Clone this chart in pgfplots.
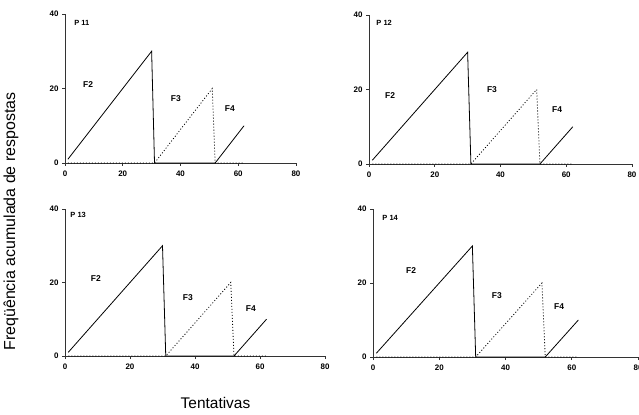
\documentclass[border=0pt]{standalone}
\usepackage{fontspec}
\setmainfont{Liberation Sans}
\usepackage{pgfplots}
\pgfplotsset{compat=1.18}
\pgfplotsset{
  panel/.style={
    scale only axis,
    anchor=origin,
    xmin=0,xmax=80,ymin=0,ymax=40,
    axis x line*=bottom, axis y line*=left,
    axis line style={-, line width=0.9bp, black!80},
    xtick={0,20,40,60,80}, ytick={0,20,40},
    tick align=outside, major tick length=3bp,
    tick style={line width=0.8bp, black!80},
    /pgf/number format/assume math mode=true,
    tick label style={font=\bfseries\fontsize{8}{9}\selectfont},
    xticklabel style={yshift=-1bp},
    clip=false,
  },
}
\tikzset{
  solidline/.style={black, line width=0.8bp},
  dotline/.style={black, line width=0.8bp, dash pattern=on 1bp off 2bp},
  lab/.style={font=\bfseries\fontsize{8.5}{9}\selectfont},
  plab/.style={font=\bfseries\fontsize{7.5}{8}\selectfont, anchor=west},
}
\begin{document}
\begin{tikzpicture}
\useasboundingbox (0,0) rectangle (639bp,415bp);

% P 11
\begin{axis}[panel, at={(65bp,252bp)}, width=231bp, height=149bp]
\addplot[dotline] coordinates {(1,0) (31,0) (32,1) (51,20) (52,0) (62,0)};
\addplot[solidline] coordinates {(1,1) (30,30) (31,0) (52,0)};
\addplot[solidline] coordinates {(52,0) (62,10)};
\node[plab] at (axis cs:2,37.5) {P 11};
\node[lab] at (axis cs:8,21) {F2};
\node[lab] at (axis cs:38.4,17.2) {F3};
\node[lab] at (axis cs:57.1,14.5) {F4};
\end{axis}

% P 12
\begin{axis}[panel, at={(369bp,251bp)}, width=263bp, height=149bp]
\addplot[dotline] coordinates {(1,0) (31,0) (32,1) (51,20) (52,0) (62,0)};
\addplot[solidline] coordinates {(1,1) (30,30) (31,0) (52,0)};
\addplot[solidline] coordinates {(52,0) (62,10)};
\node[plab] at (axis cs:1.2,37.9) {P 12};
\node[lab] at (axis cs:6.4,18.5) {F2};
\node[lab] at (axis cs:37.4,19.9) {F3};
\node[lab] at (axis cs:57.2,14.5) {F4};
\end{axis}

% P 13
\begin{axis}[panel, at={(65bp,59bp)}, width=260bp, height=147bp]
\addplot[dotline] coordinates {(1,0) (31,0) (32,1) (51,20) (52,0) (62,0)};
\addplot[solidline] coordinates {(1,1) (30,30) (31,0) (52,0)};
\addplot[solidline] coordinates {(52,0) (62,10)};
\node[plab] at (axis cs:0.6,38.4) {P 13};
\node[lab] at (axis cs:9.5,21.2) {F2};
\node[lab] at (axis cs:37.8,16) {F3};
\node[lab] at (axis cs:57.2,12.8) {F4};
\end{axis}

% P 14
\begin{axis}[panel, at={(373bp,58bp)}, width=265bp, height=148bp]
\addplot[dotline] coordinates {(1,0) (31,0) (32,1) (51,20) (52,0) (62,0)};
\addplot[solidline] coordinates {(1,1) (30,30) (31,0) (52,0)};
\addplot[solidline] coordinates {(52,0) (62,10)};
\node[plab] at (axis cs:1.8,37.6) {P 14};
\node[lab] at (axis cs:11.5,23.5) {F2};
\node[lab] at (axis cs:37.4,16.5) {F3};
\node[lab] at (axis cs:56.2,13.5) {F4};
\end{axis}

\node[rotate=90, anchor=base, font=\fontsize{16}{18}\selectfont] at (15bp,193.5bp) {Freqüência acumulada de respostas};
\node[anchor=base, font=\fontsize{15.5}{17}\selectfont] at (215.5bp,6.7bp) {Tentativas};
\end{tikzpicture}
\end{document}
